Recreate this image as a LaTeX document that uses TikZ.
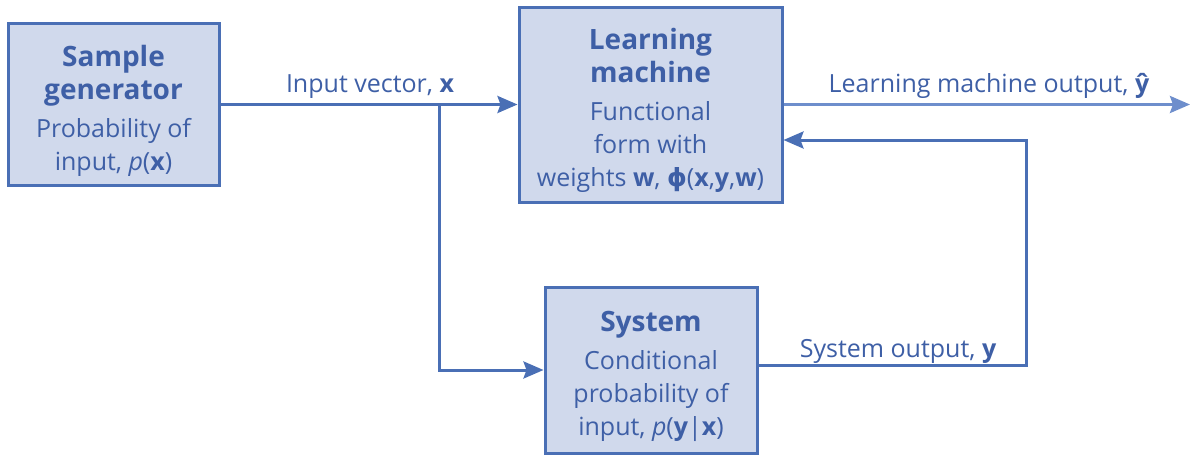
\documentclass[tikz,border=0pt]{standalone}
\usepackage{fontspec}
\setmainfont{Open Sans}
\newfontfamily\symfont{DejaVu Sans}
\usetikzlibrary{arrows.meta,calc}
\definecolor{boxfill}{RGB}{208,217,236}
\definecolor{boxline}{RGB}{74,111,181}
\definecolor{txt}{RGB}{62,95,166}
\definecolor{outline}{RGB}{110,142,204}
\newcommand{\ttl}[1]{{\fontsize{14}{16.5}\selectfont\textbf{#1}}}
\tikzset{
  blockbox/.style={draw=boxline,fill=boxfill,line width=1.5pt,inner sep=0pt},
  blocktext/.style={inner sep=0pt,align=center,text=txt,yshift=-3pt,
    font=\fontsize{12.5}{16.5}\selectfont},
  conn/.style={draw=boxline,line width=1.5pt},
  tip/.style={-{Stealth[length=10pt,width=8.5pt,inset=1.5pt]}},
  lbl/.style={text=txt,font=\fontsize{12.5}{15}\selectfont,anchor=base,inner sep=0pt}
}
\begin{document}
\begin{tikzpicture}[x=0.5pt,y=-0.5pt]
\useasboundingbox (0,0) rectangle (1191,455);
\node[blockbox,minimum width=105.5pt,minimum height=81pt] (sg) at (113.5,104.5) {};
\node[blocktext] (sgt) at (sg.center)
  {\ttl{Sample}\\\ttl{generator}\\[2.5pt]Probability of\\input, \textit{p}(\textbf{x})};
\node[blockbox,minimum width=131.5pt,minimum height=97.5pt] (lm) at (650.5,104.5) {};
\node[blocktext] (lmt) at (lm.center)
  {\ttl{Learning}\\\ttl{machine}\\[2.5pt]Functional\\form with\\weights \textbf{w}, {\symfont\bfseries ϕ}(\textbf{x},\textbf{y},\textbf{w})};
\node[blockbox,minimum width=106pt,minimum height=83pt] (sys) at (651,370) {};
\node[blocktext] (syst) at (sys.center)
  {\ttl{System}\\[2.5pt]Conditional\\probability of\\input, \textit{p}(\textbf{y}|\textbf{x})};
\coordinate (br) at (439,104.5);
\coordinate (out) at (1190,104.5);
\coordinate (fb) at (1026,140);
\coordinate (so) at ($(sys.east)+(0,-5)$);
\draw[conn,tip] (sg.east) -- (lm.west);
\draw[conn,tip] (br) |- (sys.west);
\draw[conn,draw=outline,tip] (lm.east) -- (out);
\draw[conn,tip] (so) -| (fb) -- (lm.east |- fb);
\node[lbl] (l1) at (370,92) {Input vector, \textbf{x}};
\node[lbl] (l2) at (989,92) {Learning machine output, \textbf{ŷ}};
\node[lbl] (l3) at (898,357) {System output, \textbf{y}};
\end{tikzpicture}
\end{document}
